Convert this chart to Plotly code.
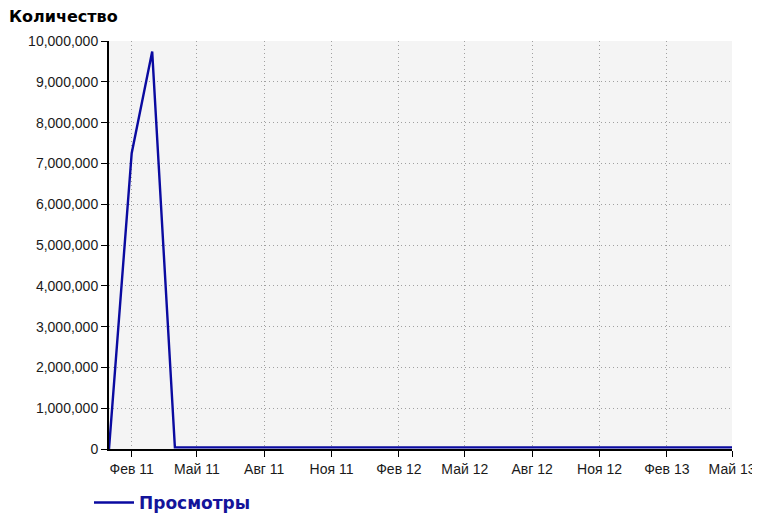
import plotly.graph_objects as go

months = ["2011-01-01", "2011-02-01", "2011-03-01", "2011-04-01", "2011-05-01", "2011-06-01",
          "2011-07-01", "2011-08-01", "2011-09-01", "2011-10-01", "2011-11-01", "2011-12-01",
          "2012-01-01", "2012-02-01", "2012-03-01", "2012-04-01", "2012-05-01", "2012-06-01",
          "2012-07-01", "2012-08-01", "2012-09-01", "2012-10-01", "2012-11-01", "2012-12-01",
          "2013-01-01", "2013-02-01", "2013-03-01", "2013-04-01", "2013-05-01"]
views = [0, 7250000, 9740000, 40000, 40000, 40000,
         40000, 40000, 40000, 40000, 40000, 40000,
         40000, 40000, 40000, 40000, 40000, 40000,
         40000, 40000, 40000, 40000, 40000, 40000,
         40000, 40000, 40000, 40000, 40000]

tick_dates = ["2011-02-01", "2011-05-01", "2011-08-01", "2011-11-01", "2012-02-01",
              "2012-05-01", "2012-08-01", "2012-11-01", "2013-02-01", "2013-05-01"]
tick_labels = ["Фев 11", "Май 11", "Авг 11", "Ноя 11", "Фев 12",
               "Май 12", "Авг 12", "Ноя 12", "Фев 13", "Май 13"]
y_ticks = [0, 1000000, 2000000, 3000000, 4000000, 5000000, 6000000, 7000000, 8000000, 9000000, 10000000]
y_labels = ["0", "1,000,000", "2,000,000", "3,000,000", "4,000,000", "5,000,000",
            "6,000,000", "7,000,000", "8,000,000", "9,000,000", "10,000,000"]

font_family = "Liberation Sans, Arial, sans-serif"
bold_family = "DejaVu Sans, sans-serif"
line_color = "#0a0aa0"

# page body has an 8px margin, so the figure is 752x510 placed at (8, 8)
W, H = 752, 510

fig = go.Figure()
fig.add_trace(go.Scatter(
    x=months, y=views, mode="lines", name="<b>Просмотры</b>",
    line=dict(color=line_color, width=2.4),
))

fig.update_layout(
    width=W, height=H,
    margin=dict(l=101, r=28, t=33, b=69, autoexpand=False),
    paper_bgcolor="white",
    plot_bgcolor="#f4f4f4",
    font=dict(family=font_family, size=14, color="#1a1a1a"),
    showlegend=True,
    legend=dict(orientation="h", xref="container", yref="container",
                x=81 / W, y=(H - 495) / H, xanchor="left", yanchor="middle",
                itemwidth=40,
                font=dict(family=bold_family, size=17, color="#14149a"),
                bgcolor="rgba(0,0,0,0)"),
    title=dict(text="<b>Количество</b>", xref="container", yref="container",
               x=1 / W, y=1 - 3 / H, xanchor="left", yanchor="top",
               font=dict(family=bold_family, size=16, color="#000000")),
)

fig.update_xaxes(
    type="date", range=["2011-01-01", "2013-05-01"], automargin=False,
    tickmode="array", tickvals=tick_dates, ticktext=tick_labels,
    showgrid=True, gridcolor="#a0a0a0", griddash="1px,3px", gridwidth=1,
    showline=True, linecolor="#000000", linewidth=2,
    ticks="outside", ticklen=6, tickcolor="#000000", tickwidth=1,
    tickfont=dict(size=14, color="#1a1a1a"), zeroline=False,
)
fig.update_yaxes(
    range=[0, 10000000], automargin=False,
    tickmode="array", tickvals=y_ticks, ticktext=y_labels,
    showgrid=True, gridcolor="#a0a0a0", griddash="1px,3px", gridwidth=1,
    showline=True, linecolor="#000000", linewidth=2,
    ticks="outside", ticklen=6, tickcolor="#000000", tickwidth=1,
    tickfont=dict(size=14, color="#1a1a1a"), zeroline=False,
)

fig.write_html("out.html")
